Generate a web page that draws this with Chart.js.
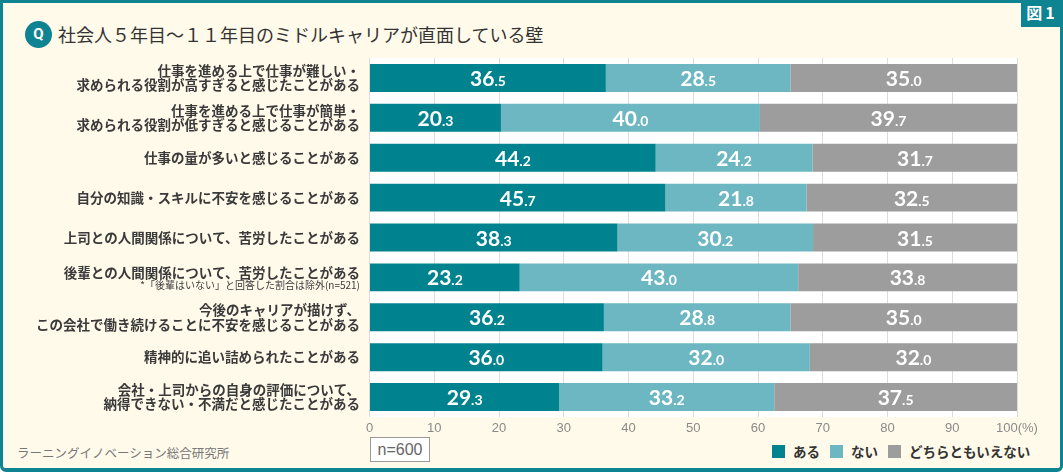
<!DOCTYPE html>
<html><head><meta charset="utf-8">
<script src="https://cdn.jsdelivr.net/npm/chart.js@4/dist/chart.umd.min.js"></script>
<style>
html,body{margin:0;padding:0;}
body{width:1063px;height:472px;overflow:hidden;position:relative;background:#fff;font-family:"Noto Sans CJK JP","Noto Sans",sans-serif;}
#frame{position:absolute;left:0;top:0;width:1057px;height:465px;border:3px solid #0e8391;border-bottom-width:4px;border-radius:0 0 6px 6px;background:#fffaea;}
#tab{position:absolute;right:0;top:0;width:42px;height:27px;background:#0e8391;color:#fff;font-size:16px;font-weight:bold;line-height:25px;text-align:center;letter-spacing:3px;}
#q{position:absolute;left:25px;top:21px;width:27px;height:27px;border-radius:50%;background:#0e8391;color:#fff;font-family:Roboto,sans-serif;font-weight:bold;font-size:15px;line-height:27px;text-align:center;}
#title{position:absolute;left:58px;top:19px;font-size:18px;color:#333;line-height:30px;}
#src{position:absolute;left:17px;top:443px;font-size:12.5px;color:#777;}
#nbox{position:absolute;left:370px;top:437px;width:58px;height:23px;border:1px solid #999;background:#fff;color:#666;font-family:"Liberation Sans Narrow","Liberation Sans",sans-serif;font-size:16px;line-height:23px;text-align:center;}
#legend{position:absolute;left:772px;top:441px;font-size:13.5px;font-weight:bold;color:#333;display:flex;align-items:center;}
#legend span.sw{display:inline-block;width:13px;height:13px;margin-right:8px;}
#legend span.t{margin-right:10px;}
canvas{position:absolute;left:0;top:0;}
</style></head>
<body>
<div id="frame"></div>
<div id="tab">図1</div>
<div id="q">Q</div>
<div id="title">社会人５年目～１１年目のミドルキャリアが直面している壁</div>
<div id="src">ラーニングイノベーション総合研究所</div>
<div id="nbox">n=600</div>
<div id="legend"></div>
<canvas id="c" width="1063" height="472"></canvas>
<script>
const categories = [
  ["仕事を進める上で仕事が難しい・","求められる役割が高すぎると感じたことがある"],
  ["仕事を進める上で仕事が簡単・","求められる役割が低すぎると感じることがある"],
  ["仕事の量が多いと感じることがある"],
  ["自分の知識・スキルに不安を感じることがある"],
  ["上司との人間関係について、苦労したことがある"],
  ["後輩との人間関係について、苦労したことがある"],
  ["今後のキャリアが描けず、","この会社で働き続けることに不安を感じることがある"],
  ["精神的に追い詰められたことがある"],
  ["会社・上司からの自身の評価について、","納得できない・不満だと感じたことがある"]
];
const noteIndex = 5;
const noteText = "*「後輩はいない」と回答した割合は除外(n=521)";
const seriesNames = ["ある","ない","どちらともいえない"];
const aru   = [36.5, 20.3, 44.2, 45.7, 38.3, 23.2, 36.2, 36.0, 29.3];
const nai   = [28.5, 40.0, 24.2, 21.8, 30.2, 43.0, 28.8, 32.0, 33.2];
const dochira = [35.0, 39.7, 31.7, 32.5, 31.5, 33.8, 35.0, 32.0, 37.5];
const xTicks = [0,10,20,30,40,50,60,70,80,90,100];
const colors = ["#00838f","#6cb7c1","#9d9d9d"];

const lg = document.getElementById('legend');
seriesNames.forEach((n,i)=>{lg.innerHTML += `<span class="sw" style="background:${colors[i]}"></span><span class="t">${n}</span>`;});

const bgPlugin = {
  id:'bg',
  beforeDraw(chart){
    const {ctx, chartArea:a} = chart;
    ctx.save(); ctx.fillStyle='#fff';
    ctx.fillRect(a.left, a.top, a.right-a.left, a.bottom-a.top);
    ctx.restore();
  }
};
const labelPlugin = {
  id:'lbl',
  afterDatasetsDraw(chart){
    const ctx = chart.ctx;
    ctx.save();
    chart.data.datasets.forEach((ds,di)=>{
      const meta = chart.getDatasetMeta(di);
      meta.data.forEach((bar,i)=>{
        const v = ds.data[i];
        const s = v.toFixed(1);
        const [ip, dp] = s.split('.');
        const big = 'bold 21px Lato, "Noto Sans", sans-serif';
        const small = 'bold 14px Lato, "Noto Sans", sans-serif';
        ctx.font = big; const w1 = ctx.measureText(ip).width;
        ctx.font = small; const w2 = ctx.measureText('.'+dp).width;
        const cx = (bar.x + bar.base)/2;
        const x0 = cx - (w1+w2)/2;
        const y = bar.y + 8;
        ctx.fillStyle = '#fff';
        ctx.textBaseline = 'alphabetic'; ctx.textAlign='left';
        ctx.font = big; ctx.fillText(ip, x0, y);
        ctx.font = small; ctx.fillText('.'+dp, x0+w1, y);
      });
    });
    // y labels
    const ys = chart.scales.y;
    ctx.textAlign='right'; ctx.fillStyle='#3a3a3a';
    categories.forEach((lines,i)=>{
      const cy = ys.getPixelForValue(i);
      ctx.font = 'bold 13.5px "Noto Sans CJK JP", sans-serif';
      ctx.textBaseline='middle';
      if (i === noteIndex){
        ctx.fillText(lines[0], 360, cy-5);
        ctx.font = '10px "Noto Sans CJK JP", sans-serif';
        ctx.fillText(noteText, 360, cy+8);
      } else {
        const lh = 14.5;
        const n = lines.length;
        lines.forEach((t,k)=>{ ctx.fillText(t, 360, cy + (k-(n-1)/2)*lh); });
      }
    });
    ctx.restore();
  }
};

new Chart(document.getElementById('c'), {
  type:'bar',
  data:{
    labels: categories.map(c=>c.join('')),
    datasets: seriesNames.map((n,i)=>({
      label:n,
      data:[aru,nai,dochira][i],
      backgroundColor:colors[i],
      borderWidth:0,
      barPercentage:0.7,
      categoryPercentage:1.0
    }))
  },
  options:{
    indexAxis:'y',
    responsive:false,
    animation:false,
    layout:{padding:{left:0,right:46,top:58,bottom:0}},
    plugins:{legend:{display:false},tooltip:{enabled:false}},
    scales:{
      x:{
        stacked:true, min:0, max:100,
        border:{display:false},
        grid:{color:'#dcdcdc', lineWidth:1, drawTicks:false},
        afterBuildTicks(s){ s.ticks = xTicks.map(v=>({value:v})); },
        afterFit(s){ s.height = 55; },
        ticks:{
          padding:4,
          color:'#8a8a8a',
          font:{family:'"Liberation Sans Narrow","Liberation Sans",sans-serif', size:13},
          callback:(v)=> v===100 ? '100(%)' : v
        }
      },
      y:{
        stacked:true,
        border:{display:false},
        grid:{display:false},
        ticks:{display:false},
        afterFit(s){ s.width = 369.5; }
      }
    }
  },
  plugins:[bgPlugin,labelPlugin]
});
</script>
</body></html>
